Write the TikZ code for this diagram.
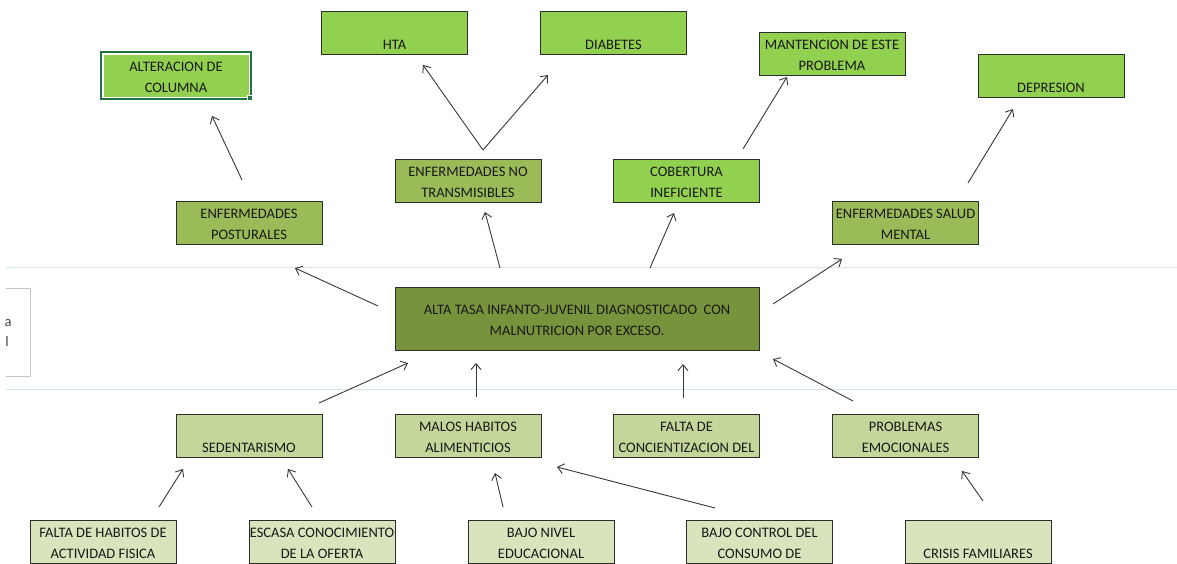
\documentclass[tikz,border=0pt]{standalone}
\usepackage{fontspec}
\setmainfont{Carlito}
\usetikzlibrary{arrows.meta}
\definecolor{limegreen}{RGB}{146, 208, 80}
\definecolor{olivegreen}{RGB}{155, 187, 89}
\definecolor{darkolive}{RGB}{119, 147, 60}
\definecolor{palegreen}{RGB}{196, 215, 155}
\definecolor{palestgreen}{RGB}{215, 228, 188}
\definecolor{selgreen}{RGB}{33, 115, 70}
\definecolor{gridcolor}{RGB}{212, 234, 220}
\definecolor{edgecolor}{RGB}{45, 45, 45}
\definecolor{arrowcolor}{RGB}{55, 55, 55}
\newcommand{\cellfont}{\fontsize{14.5}{21}\selectfont}
\newcommand{\cellstrut}{\rule[-4.3pt]{0pt}{21pt}}
\newcommand{\twolines}[2]{\cellstrut#1\\\cellstrut#2}

\begin{document}
\begin{tikzpicture}[
    x=1pt, y=-1pt,
    cell/.style={rectangle, draw=edgecolor, line width=0.9pt, minimum width=146pt, minimum height=43pt, inner sep=0pt, align=center, font=\cellfont, text=black!90},
    effect cell/.style={cell, fill=limegreen},
    group cell/.style={cell, fill=olivegreen},
    problem cell/.style={cell, fill=darkolive, minimum width=364pt, minimum height=63pt},
    cause cell/.style={cell, fill=palegreen},
    root cell/.style={cell, fill=palestgreen},
    sidetext/.style={inner sep=0pt, font=\cellfont, text=black!75},
    arrow/.style={->, >={Straight Barb[length=6pt, width=10pt]}, arrowcolor, line width=0.9pt},
    gridline/.style={gridcolor, line width=1pt},
]
\useasboundingbox (0,0) rectangle (1177,564);

% ======= SHEET BACKGROUND =======
\draw[gridline] (6,267) -- (1177,267);
\draw[gridline] (6,389) -- (1177,389);
\draw[black!22, line width=0.8pt] (6,288) -- (30,288) -- (30,376) -- (6,376);
\node[sidetext] (side-a) at (8,323) {a};
\node[sidetext] (side-l) at (7,341) {l};

% ======= EFFECTS (top) =======
\node[effect cell, draw=white] (alter) at (176,75.5) {\twolines{ALTERACION DE}{COLUMNA}};
\node[effect cell] (hta)  at (394.5,32.5) {\twolines{}{HTA}};
\node[effect cell] (diab) at (613.5,32.5) {\twolines{}{DIABETES}};
\node[effect cell] (mant) at (832,53.5)   {\twolines{MANTENCION DE ESTE}{PROBLEMA}};
\node[effect cell] (depr) at (1051,75.5)  {\twolines{}{DEPRESION}};

% selected cell outline
\draw[selgreen, line width=2pt] ([xshift=-1.5pt, yshift=1.5pt]alter.north west) rectangle ([xshift=1.5pt, yshift=-1.5pt]alter.south east);
\node[fill=selgreen, draw=white, line width=0.6pt, minimum size=5pt, inner sep=0pt] (handle) at (alter.south east) {};

% ======= FIRST EFFECTS =======
\node[group cell] (post) at (249,223)    {\twolines{ENFERMEDADES}{POSTURALES}};
\node[group cell] (notr) at (468,180.5)  {\twolines{ENFERMEDADES NO}{TRANSMISIBLES}};
\node[effect cell] (cobe) at (686.5,180.5) {\twolines{COBERTURA}{INEFICIENTE}};
\node[group cell] (salu) at (905.5,223)  {\twolines{ENFERMEDADES SALUD}{MENTAL}};

% ======= CENTRAL PROBLEM =======
\node[problem cell] (main) at (577,318.5) {\twolines{ALTA TASA INFANTO-JUVENIL DIAGNOSTICADO~ CON}{MALNUTRICION POR EXCESO.}};

% ======= DIRECT CAUSES =======
\node[cause cell] (sede) at (249,435.5)   {\twolines{}{SEDENTARISMO}};
\node[cause cell] (malo) at (468,435.5)   {\twolines{MALOS HABITOS}{ALIMENTICIOS}};
\node[cause cell] (falt) at (686.5,435.5) {\twolines{FALTA DE}{CONCIENTIZACION DEL}};
\node[cause cell] (prob) at (905.5,435.5) {\twolines{PROBLEMAS}{EMOCIONALES}};

% ======= ROOT CAUSES =======
\node[root cell] (fhab) at (103,541.5)   {\twolines{FALTA DE HABITOS DE}{ACTIVIDAD FISICA}};
\node[root cell] (esca) at (322,541.5)   {\twolines{ESCASA CONOCIMIENTO}{DE LA OFERTA}};
\node[root cell] (bajn) at (541,541.5)   {\twolines{BAJO NIVEL}{EDUCACIONAL}};
\node[root cell] (bajc) at (759.5,541.5) {\twolines{BAJO CONTROL DEL}{CONSUMO DE}};
\node[root cell] (cris) at (978,541.5)   {\twolines{}{CRISIS FAMILIARES}};

% ======= ARROW ENDS =======
\coordinate (a1-s)  at (242,180); \coordinate (a1-e)  at (212,116); % post -> alter
\coordinate (a2-s)  at (483,150); \coordinate (a2-e)  at (423,65);  % notr -> hta
\coordinate (a3-s)  at (483,150); \coordinate (a3-e)  at (548,75);  % notr -> diab
\coordinate (a4-s)  at (743,149); \coordinate (a4-e)  at (787,77);  % cobe -> mant
\coordinate (a5-s)  at (968,183); \coordinate (a5-e)  at (1013,109); % salu -> depr
\coordinate (a6-s)  at (378,306); \coordinate (a6-e)  at (295,268); % main -> post
\coordinate (a7-s)  at (500,268); \coordinate (a7-e)  at (485,212); % main -> notr
\coordinate (a8-s)  at (650,268); \coordinate (a8-e)  at (674,213); % main -> cobe
\coordinate (a9-s)  at (773,304); \coordinate (a9-e)  at (842,259); % main -> salu
\coordinate (a10-s) at (319,403); \coordinate (a10-e) at (408,363); % sede -> main
\coordinate (a11-s) at (476,397); \coordinate (a11-e) at (476,363); % malo -> main
\coordinate (a12-s) at (683,398); \coordinate (a12-e) at (683,364); % falt -> main
\coordinate (a13-s) at (853,401); \coordinate (a13-e) at (773,359); % prob -> main
\coordinate (a14-s) at (159,507); \coordinate (a14-e) at (183,469); % fhab -> sede
\coordinate (a15-s) at (312,507); \coordinate (a15-e) at (288,469); % esca -> sede
\coordinate (a16-s) at (503,507); \coordinate (a16-e) at (495,473); % bajn -> malo
\coordinate (a17-s) at (715,508); \coordinate (a17-e) at (557,467); % bajc -> malo
\coordinate (a18-s) at (983,501); \coordinate (a18-e) at (962,471); % cris -> prob

% ======= ARROWS =======
\foreach \i in {1,...,18} {
    \draw[arrow] (a\i-s) -- (a\i-e);
}

\end{tikzpicture}
\end{document}
